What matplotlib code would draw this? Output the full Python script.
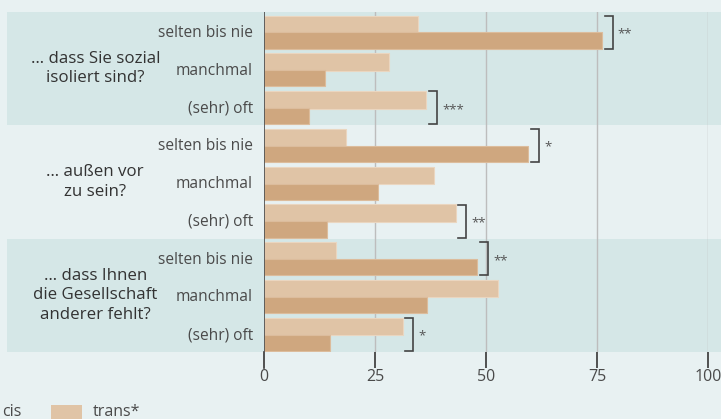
import matplotlib.pyplot as plt
from matplotlib.patches import Rectangle

plt.rcParams['font.family'] = ['Open Sans', 'DejaVu Sans']

# --- Daten ---
fragen = ['… dass Sie sozial\nisoliert sind?',
          '… außen vor\nzu sein?',
          '… dass Ihnen\ndie Gesellschaft\nanderer fehlt?']
antworten = ['selten bis nie', 'manchmal', '(sehr) oft']
trans_werte = [34.7, 28.2, 36.5, 18.5, 38.3, 43.2, 16.2, 52.8, 31.2]
cis_werte = [76.1, 13.7, 10.1, 59.5, 25.7, 14.2, 48.0, 36.6, 14.9]
signifikanz = ['**', '', '***', '*', '', '**', '**', '', '*']
x_ticks = [0, 25, 50, 75, 100]

# Farben
bg = '#e8f1f2'
band = '#d5e7e7'
hell = '#e0c4a6'
dunkel = '#cfa77f'
text_c = '#4a4a4a'

W, H = 721, 419
fig = plt.figure(figsize=(W / 100, H / 100), dpi=100, facecolor=bg)
# Achse in Pixelkoordinaten platzieren
x0, x1, y_top, y_bot = 264, 708, 12, 352
ax = fig.add_axes([x0 / W, 1 - y_bot / H, (x1 - x0) / W, (y_bot - y_top) / H])
ax.set_facecolor(bg)

n = len(trans_werte)
ax.set_xlim(0, 100)
ax.set_ylim(n - 0.5, -0.5)

# Hintergrundbänder für Gruppe 1 und 3
xmin_f = (7 - x0) / (x1 - x0)
xmax_f = (W - x0) / (x1 - x0)
for g in [0, 2]:
    ax.axhspan(g * 3 - 0.5, g * 3 + 2.5, xmin=xmin_f, xmax=xmax_f,
               color=band, zorder=0, clip_on=False, lw=0)

# Gitterlinien
for t in x_ticks[1:]:
    ax.axvline(t, color='#bdbdbd', lw=1, zorder=1)

ys = list(range(n))
ax.barh([y - 0.175 for y in ys], trans_werte, height=0.46, color=hell,
        edgecolor='#ead6c0', lw=0.8, zorder=2)
ax.barh([y + 0.255 for y in ys], cis_werte, height=0.43, color=dunkel,
        edgecolor='#dcbc9c', lw=0.8, zorder=2)

# Signifikanzklammern
for i, s in enumerate(signifikanz):
    if not s:
        continue
    xb = max(trans_werte[i], cis_werte[i]) + 2.4
    yt, yb = i - 0.4, i + 0.47
    ax.plot([xb - 1.8, xb, xb, xb - 1.8], [yt, yt, yb, yb],
            color='#444444', lw=1.2, zorder=3, solid_joinstyle='miter')
    ax.text(xb + 1.2, i + 0.08, s, fontsize=9.5, color='#555555',
            va='center', ha='left')

# Achsen
for sp in ax.spines.values():
    sp.set_visible(False)
ax.axvline(0, color='#555555', lw=1.3, zorder=4)
ax.plot([0, 0], [n - 0.5, n - 0.5 + 16 / 37.8], color='#555555', lw=1.3,
        clip_on=False)
ax.set_xticks(x_ticks)
ax.set_xticklabels([str(t) for t in x_ticks])
ax.tick_params(axis='x', length=11.5, width=1.3, color='#444444',
               labelsize=11.5, labelcolor=text_c, pad=1)
ax.set_yticks(ys)
ax.set_yticklabels(antworten * 3)
ax.tick_params(axis='y', length=0, labelsize=11.2, labelcolor=text_c, pad=8)

# Fragetexte
for g, f in enumerate(fragen):
    yc = g * 3 + 1
    ax.text(-38.0, yc, f, fontsize=12.2, color='#333333', ha='center',
            va='center', multialignment='center', linespacing=1.3,
            clip_on=False)

# Legende (unten abgeschnitten)
fig.text(2 / W, 1 - 412 / H, 'cis', fontsize=11.5, color=text_c, va='center',
         ha='left')
fig.patches.append(Rectangle((51 / W, 0), 31 / W, 14 / H, transform=fig.transFigure,
                             facecolor=hell, edgecolor='none', figure=fig))
fig.text(93 / W, 1 - 412 / H, 'trans*', fontsize=11.5, color=text_c, va='center',
         ha='left')

fig.savefig('out.png', dpi=100, facecolor=bg)
